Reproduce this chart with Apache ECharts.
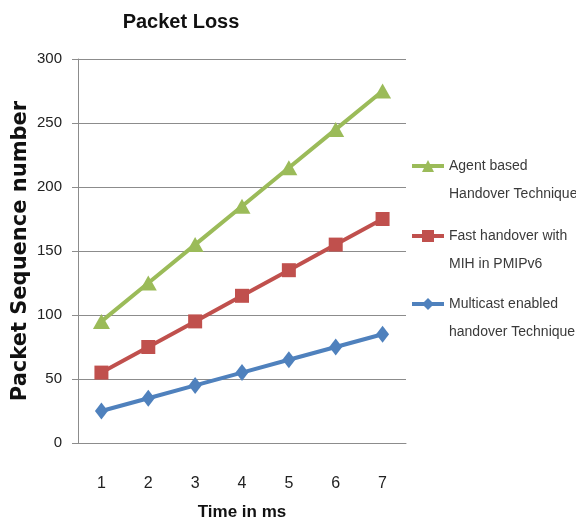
<!DOCTYPE html>
<html>
<head>
<meta charset="utf-8">
<script src="https://cdn.jsdelivr.net/npm/echarts@6/dist/echarts.min.js"></script>
<style>
  html, body { margin: 0; padding: 0; background: #fff; }
  #chart { width: 576px; height: 524px; }
</style>
</head>
<body>
<div id="chart"></div>
<script>
// Time points (ms) on the x axis
const times = ['1', '2', '3', '4', '5', '6', '7'];

// Packet sequence numbers per technique
const agentBased = [95, 125, 155, 185, 215, 245, 275];
const fastHandover = [55, 75, 95, 115, 135, 155, 175];
const multicastEnabled = [25, 35, 45, 55, 65, 75, 85];

// Series names as shown in the legend
const nameAgent = 'Agent based\nHandover Technique';
const nameFast = 'Fast handover with\nMIH in PMIPv6';
const nameMulti = 'Multicast enabled\nhandover Technique';

const sans = '"Liberation Sans", Arial, sans-serif';

// One legend block per series; an empty first line keeps the icon
// level with the first line of the two-line label.
function legendFor(name, iconCenterY) {
  return {
    data: [name],
    left: 410,
    top: iconCenterY - 42,
    padding: 0,
    orient: 'vertical',
    itemWidth: 32,
    itemHeight: 15,
    itemGap: 0,
    formatter: (n) => ' \n' + n,
    lineStyle: { width: 4 },
    textStyle: {
      fontFamily: sans,
      fontSize: 14,
      color: '#3a3a3a',
      lineHeight: 28
    }
  };
}

const chart = echarts.init(document.getElementById('chart'));
chart.setOption({
  animation: false,
  title: {
    text: 'Packet Loss',
    left: 181,
    textAlign: 'center',
    top: 12,
    padding: 0,
    textStyle: { fontFamily: sans, fontSize: 20, fontWeight: 'bold', color: '#111' }
  },
  legend: [
    legendFor(nameAgent, 166),
    legendFor(nameFast, 236),
    legendFor(nameMulti, 304)
  ],
  grid: {
    left: 78, right: 170, top: 59, bottom: 81,
    containLabel: false,
    outerBoundsMode: 'none'
  },
  xAxis: {
    type: 'category',
    data: times,
    boundaryGap: true,
    name: 'Time in ms',
    nameLocation: 'middle',
    nameGap: 61,
    nameMoveOverlap: false,
    nameTextStyle: { fontFamily: sans, fontSize: 17, fontWeight: 'bold', color: '#111' },
    axisLine: { lineStyle: { color: '#8c8c8c', width: 1 } },
    axisTick: { length: 7, lineStyle: { color: '#8c8c8c' } },
    axisLabel: { margin: 33, fontFamily: sans, fontSize: 16, color: '#222' }
  },
  yAxis: {
    type: 'value',
    min: 0,
    max: 300,
    interval: 50,
    name: 'Packet Sequence number',
    nameLocation: 'middle',
    nameRotate: 90,
    nameGap: 47,
    nameMoveOverlap: false,
    nameTextStyle: { fontFamily: 'DejaVu Sans', fontSize: 21, fontWeight: 'bold', color: '#111' },
    axisLine: { show: true, lineStyle: { color: '#8c8c8c', width: 1 } },
    axisTick: { show: true, length: 6, lineStyle: { color: '#8c8c8c' } },
    axisLabel: { margin: 16, fontFamily: sans, fontSize: 15, color: '#222' },
    splitLine: { lineStyle: { color: '#8c8c8c', width: 1 } }
  },
  series: [
    {
      name: nameMulti,
      type: 'line',
      data: multicastEnabled,
      symbol: 'diamond',
      symbolSize: [13, 17],
      lineStyle: { color: '#4F81BD', width: 4 },
      itemStyle: { color: '#4F81BD' }
    },
    {
      name: nameFast,
      type: 'line',
      data: fastHandover,
      symbol: 'rect',
      symbolSize: 14,
      lineStyle: { color: '#C0504D', width: 4 },
      itemStyle: { color: '#C0504D' }
    },
    {
      name: nameAgent,
      type: 'line',
      data: agentBased,
      symbol: 'triangle',
      symbolSize: [17, 15],
      lineStyle: { color: '#9BBB59', width: 4 },
      itemStyle: { color: '#9BBB59' }
    }
  ]
});
</script>
</body>
</html>
